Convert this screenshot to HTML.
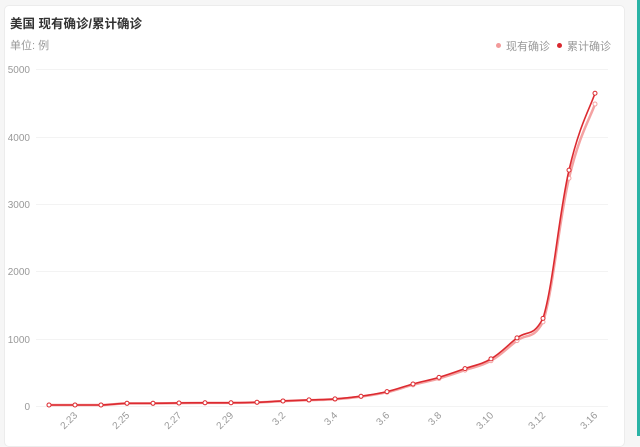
<!DOCTYPE html>
<html><head><meta charset="utf-8"><style>
html,body{margin:0;padding:0;width:640px;height:436px;overflow:hidden;background:#f6f6f6;font-family:"Liberation Sans","Noto Sans CJK SC",sans-serif;}
.card{position:absolute;left:4px;top:5px;width:619px;height:440px;background:#fff;border:1px solid #ececec;border-radius:5px;}
.teal{position:absolute;left:637px;top:0;width:3px;height:436px;background:#2bb3a6;}
.title{position:absolute;left:10px;top:13px;font-size:12.5px;font-weight:bold;color:#333;}
.unit{position:absolute;left:10px;top:37px;font-size:11px;color:#999;}
.leg{position:absolute;top:38px;font-size:11px;color:#999;}
.dot{display:inline-block;width:5px;height:5px;border-radius:50%;margin-right:5px;vertical-align:2px;}
svg{position:absolute;left:0;top:0;}
</style></head><body>
<div class="card"></div>
<div class="teal"></div>
<div class="title">美国 现有确诊/累计确诊</div>
<div class="unit">单位: 例</div>
<div class="leg" style="left:496px"><span class="dot" style="background:#f29a9a"></span>现有确诊</div>
<div class="leg" style="left:557px"><span class="dot" style="background:#d9282f"></span>累计确诊</div>
<svg id="s" width="640" height="436" xmlns="http://www.w3.org/2000/svg">
<g stroke="#f3f3f3" stroke-width="1">
<line x1="36" x2="608" y1="406.5" y2="406.5"/><line x1="36" x2="608" y1="339.5" y2="339.5"/>
<line x1="36" x2="608" y1="271.5" y2="271.5"/><line x1="36" x2="608" y1="204.5" y2="204.5"/>
<line x1="36" x2="608" y1="137.5" y2="137.5"/><line x1="36" x2="608" y1="69.5" y2="69.5"/>
</g>
<g font-size="10" fill="#999" text-anchor="end" font-family="Liberation Sans,sans-serif">
<text x="30" y="410">0</text><text x="30" y="343">1000</text><text x="30" y="275">2000</text>
<text x="30" y="208">3000</text><text x="30" y="141">4000</text><text x="30" y="73">5000</text>
</g>
<g font-size="10" fill="#999" text-anchor="end" font-family="Liberation Sans,sans-serif">
<text transform="translate(78,416) rotate(-45)">2.23</text>
<text transform="translate(130,416) rotate(-45)">2.25</text>
<text transform="translate(182,416) rotate(-45)">2.27</text>
<text transform="translate(234,416) rotate(-45)">2.29</text>
<text transform="translate(286,416) rotate(-45)">3.2</text>
<text transform="translate(338,416) rotate(-45)">3.4</text>
<text transform="translate(390,416) rotate(-45)">3.6</text>
<text transform="translate(442,416) rotate(-45)">3.8</text>
<text transform="translate(494,416) rotate(-45)">3.10</text>
<text transform="translate(546,416) rotate(-45)">3.12</text>
<text transform="translate(598,416) rotate(-45)">3.16</text>
</g>
<g id="lines"></g>
</svg>
<script>
var cum=[15,15,15,40,40,45,48,48,55,75,90,105,145,213,327,425,555,700,1010,1300,3500,4640];
var cur=cum.map(function(v,i){return i>=20?(i==20?3380:4480):v*0.96;});
function pts(a){return a.map(function(v,i){return [49+26*i,406-v*0.0674];});}
function cl(v,a,b){var lo=Math.min(a,b),hi=Math.max(a,b);return Math.max(lo,Math.min(hi,v));}
function path(p){var d="M"+p[0][0]+","+p[0][1];for(var i=0;i<p.length-1;i++){var p0=p[i-1]||p[i],p1=p[i],p2=p[i+1],p3=p[i+2]||p2;var t=0.2;
var c1y=cl(p1[1]+(p2[1]-p0[1])*t,p1[1],p2[1]),c2y=cl(p2[1]-(p3[1]-p1[1])*t,p1[1],p2[1]);
d+=" C"+(p1[0]+(p2[0]-p0[0])*t)+","+c1y+" "+(p2[0]-(p3[0]-p1[0])*t)+","+c2y+" "+p2[0]+","+p2[1];}return d;}
var g=document.getElementById("lines"),ns="http://www.w3.org/2000/svg";
function draw(a,col,w){var p=pts(a);var e=document.createElementNS(ns,"path");e.setAttribute("d",path(p));e.setAttribute("fill","none");e.setAttribute("stroke",col);e.setAttribute("stroke-width",w);g.appendChild(e);
p.forEach(function(q){var c=document.createElementNS(ns,"circle");c.setAttribute("cx",q[0]);c.setAttribute("cy",q[1]);c.setAttribute("r",2);c.setAttribute("fill","#fff");c.setAttribute("stroke",col);c.setAttribute("stroke-width",1);g.appendChild(c);});}
draw(cur,"#f4a2a2",2.5);draw(cum,"#dc2a30",1.6);
</script>
</body></html>
